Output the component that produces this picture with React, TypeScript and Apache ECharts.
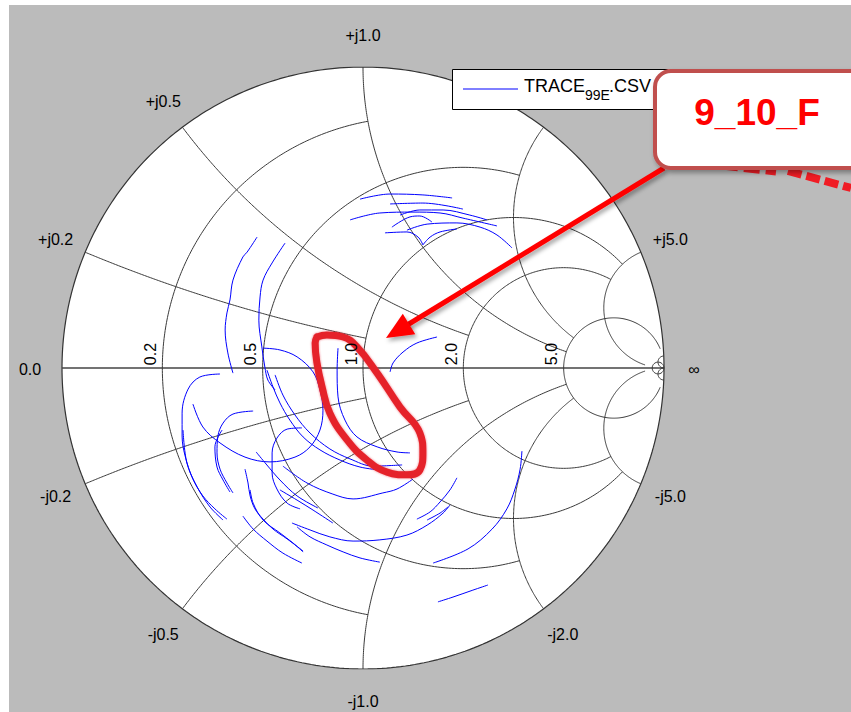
import React, { useEffect, useRef } from "react";
import * as echarts from "echarts";

// ---- layout constants ----
const W = 851;
const H = 712;
const CX = 363;
const CY = 368;
const RAD = 301;
const FONT = '"Liberation Sans", Arial, Helvetica, sans-serif';

// ---- Smith chart grid (value, limit) ----
const gridValues = [0.2, 0.5, 1, 2, 5];
const gridLimits = [1, 2, 5, 5, 30];
const extraValue = 50;

// ---- tick labels ("+j2.0" sits under the legend box in the reference) ----
const reactanceTicks = [0.2, 0.5, 1, 2, 5];
const reactanceLabelsPos = ["+j0.2", "+j0.5", "+j1.0", "", "+j5.0"];
const reactanceLabelsNeg = ["-j0.2", "-j0.5", "-j1.0", "-j2.0", "-j5.0"];
const resistanceLabels = ["0.2", "0.5", "1.0", "2.0", "5.0"];
const legendName = ["TRACE", "99E", ".CSV"];
const calloutText = "9_10_F";

// ---- measured traces (reflection coefficient, Re / Im) ----
const trace01 = [[-0.010, 0.561], [0.090, 0.578], [0.199, 0.575], [0.296, 0.565]];
const trace02 = [[0.090, 0.545], [0.199, 0.548], [0.332, 0.528]];
const trace03 = [[-0.043, 0.492], [0.056, 0.515], [0.166, 0.518], [0.256, 0.515], [0.332, 0.498], [0.445, 0.472]];
const trace04 = [[0.123, 0.508], [0.189, 0.525], [0.266, 0.525], [0.355, 0.508], [0.412, 0.492]];
const trace05 = [[0.096, 0.468], [0.156, 0.502], [0.189, 0.505], [0.229, 0.485]];
const trace06 = [[0.073, 0.449], [0.146, 0.452], [0.183, 0.435], [0.199, 0.409]];
const trace07 = [[0.146, 0.458], [0.213, 0.478], [0.312, 0.482], [0.389, 0.468], [0.445, 0.442], [0.495, 0.399]];
const trace08 = [[0.199, 0.409], [0.223, 0.435], [0.256, 0.452], [0.312, 0.462]];
const trace09 = [[-0.352, 0.435], [-0.385, 0.385], [-0.399, 0.369], [-0.432, 0.292], [-0.442, 0.226], [-0.452, 0.183], [-0.458, 0.126], [-0.449, 0.050], [-0.432, -0.017]];
const trace10 = [[-0.259, 0.415], [-0.302, 0.349], [-0.332, 0.292], [-0.342, 0.236], [-0.346, 0.159], [-0.336, 0.070], [-0.326, 0.003], [-0.316, -0.040], [-0.292, -0.073]];
const trace11 = [[-0.332, 0.066], [-0.276, 0.060], [-0.219, 0.037], [-0.166, -0.013], [-0.143, -0.073], [-0.133, -0.140], [-0.143, -0.206], [-0.176, -0.262], [-0.226, -0.296], [-0.309, -0.312], [-0.392, -0.296], [-0.475, -0.249], [-0.532, -0.196], [-0.565, -0.120]];
const trace12 = [[-0.475, -0.020], [-0.542, -0.030], [-0.581, -0.070], [-0.601, -0.150], [-0.601, -0.226], [-0.591, -0.292], [-0.565, -0.369], [-0.532, -0.425], [-0.492, -0.468], [-0.452, -0.502]];
const trace13 = [[-0.598, -0.206], [-0.585, -0.316], [-0.551, -0.395], [-0.508, -0.462], [-0.465, -0.505]];
const trace14 = [[-0.365, -0.143], [-0.432, -0.153], [-0.465, -0.183], [-0.482, -0.226], [-0.485, -0.282], [-0.475, -0.336], [-0.452, -0.382], [-0.432, -0.415]];
const trace15 = [[-0.468, -0.206], [-0.492, -0.262], [-0.485, -0.329], [-0.465, -0.372], [-0.442, -0.412]];
const trace16 = [[-0.203, -0.199], [-0.252, -0.203], [-0.286, -0.233], [-0.302, -0.282], [-0.302, -0.349], [-0.286, -0.402], [-0.252, -0.449], [-0.209, -0.468]];
const trace17 = [[-0.392, -0.336], [-0.382, -0.382], [-0.375, -0.425], [-0.359, -0.468], [-0.332, -0.502], [-0.299, -0.535], [-0.252, -0.568], [-0.199, -0.608]];
const trace18 = [[-0.399, -0.492], [-0.365, -0.535], [-0.319, -0.575], [-0.266, -0.615], [-0.203, -0.648]];
const trace19 = [[-0.319, -0.007], [-0.299, -0.063], [-0.276, -0.116], [-0.243, -0.173], [-0.199, -0.229], [-0.143, -0.272], [-0.076, -0.306], [-0.010, -0.329], [0.056, -0.339]];
const trace20 = [[-0.292, -0.023], [-0.266, -0.090], [-0.226, -0.156], [-0.176, -0.216], [-0.110, -0.269], [-0.043, -0.302], [0.033, -0.326], [0.130, -0.322]];
const trace21 = [[-0.266, -0.326], [-0.186, -0.382], [-0.100, -0.419], [-0.033, -0.435], [0.066, -0.415], [0.113, -0.402], [0.166, -0.369]];
const trace22 = [[-0.236, -0.515], [-0.176, -0.538], [-0.110, -0.561], [-0.033, -0.575], [0.056, -0.571], [0.146, -0.555], [0.213, -0.522], [0.266, -0.482], [0.289, -0.455]];
const trace23 = [[-0.219, -0.528], [-0.176, -0.561], [-0.120, -0.588], [-0.066, -0.611], [-0.010, -0.631], [0.056, -0.645]];
const trace24 = [[0.528, -0.276], [0.522, -0.336], [0.505, -0.402], [0.478, -0.468], [0.429, -0.535], [0.349, -0.601], [0.233, -0.648]];
const trace25 = [[0.249, -0.777], [0.299, -0.761], [0.365, -0.738], [0.415, -0.721]];
const trace26 = [[0.312, -0.365], [0.289, -0.405], [0.256, -0.445], [0.223, -0.478], [0.179, -0.502]];
const trace27 = [[0.282, -0.462], [0.256, -0.482], [0.213, -0.505]];
const trace28 = [[-0.083, 0.066], [-0.086, -0.007], [-0.083, -0.096], [-0.060, -0.173], [-0.020, -0.229], [0.047, -0.262], [0.113, -0.279], [0.156, -0.282]];
const trace29 = [[0.090, -0.013], [0.100, 0.017], [0.133, 0.053], [0.179, 0.083], [0.246, 0.103]];
const trace30 = [[-0.375, -0.405], [-0.365, -0.449], [-0.332, -0.505], [-0.276, -0.548], [-0.233, -0.581], [-0.199, -0.611]];
const trace31 = [[-0.276, -0.405], [-0.219, -0.439], [-0.166, -0.472], [-0.100, -0.515]];
const trace32 = [[-0.355, -0.279], [-0.322, -0.319], [-0.276, -0.372], [-0.219, -0.425], [-0.150, -0.465]];

const traces = [
  trace01, trace02, trace03, trace04, trace05, trace06, trace07, trace08,
  trace09, trace10, trace11, trace12, trace13, trace14, trace15, trace16,
  trace17, trace18, trace19, trace20, trace21, trace22, trace23, trace24,
  trace25, trace26, trace27, trace28, trace29, trace30, trace31, trace32,
];

// hand-drawn highlight loop (reflection coefficient)
const highlightLoop = [[-0.153, 0.103], [-0.120, 0.110], [-0.066, 0.103], [-0.020, 0.070], [0.047, -0.017], [0.123, -0.130], [0.189, -0.216], [0.199, -0.282], [0.189, -0.339], [0.146, -0.355], [0.080, -0.346], [0.013, -0.306], [-0.053, -0.239], [-0.110, -0.150], [-0.136, -0.063], [-0.153, 0.017], [-0.159, 0.083], [-0.153, 0.103]];

// ---- geometry helpers ----
function gamma(r: number, x: number): number[] {
  const d = (r + 1) * (r + 1) + x * x;
  return [(r * r - 1 + x * x) / d, (2 * x) / d];
}

function resistanceCircle(r: number, lim: number, n = 260): number[][] {
  const c = r / (1 + r);
  const rho = 1 / (1 + r);
  let t0 = 0;
  let t1 = 2 * Math.PI;
  if (isFinite(lim)) {
    const g = gamma(r, lim);
    t0 = Math.atan2(g[1], g[0] - c);
    t1 = 2 * Math.PI - t0;
  }
  const pts: number[][] = [];
  for (let i = 0; i <= n; i++) {
    const t = t0 + ((t1 - t0) * i) / n;
    pts.push([c + rho * Math.cos(t), rho * Math.sin(t)]);
  }
  return pts;
}

function reactanceArc(x: number, lim: number, n = 180): number[][] {
  const cy = 1 / x;
  const rho = Math.abs(1 / x);
  const g0 = gamma(0, x);
  const g1 = isFinite(lim) ? gamma(lim, x) : [1, 0];
  const a0 = Math.atan2(g0[1] - cy, g0[0] - 1);
  const a1 = Math.atan2(g1[1] - cy, g1[0] - 1);
  let d = a1 - a0;
  while (d > Math.PI) d -= 2 * Math.PI;
  while (d <= -Math.PI) d += 2 * Math.PI;
  const pts: number[][] = [];
  for (let i = 0; i <= n; i++) {
    const a = a0 + (d * i) / n;
    pts.push([1 + rho * Math.cos(a), cy + rho * Math.sin(a)]);
  }
  return pts;
}

function gridSeries(data: number[][], width = 1, color = "#3a3a3a") {
  return {
    type: "line",
    data,
    symbol: "none",
    showSymbol: false,
    silent: true,
    z: 1,
    lineStyle: { color, width },
    animation: false,
  };
}

function buildOption() {
  const series: any[] = [];
  // outer circle and real axis
  series.push(gridSeries(resistanceCircle(0, Infinity, 400), 1.2, "#333"));
  series.push(gridSeries([[-1, 0], [1, 0]], 1.4, "#444"));
  gridValues.forEach((v, i) => {
    series.push(gridSeries(resistanceCircle(v, gridLimits[i])));
    series.push(gridSeries(reactanceArc(v, gridLimits[i])));
    series.push(gridSeries(reactanceArc(-v, gridLimits[i])));
  });
  series.push(gridSeries(resistanceCircle(extraValue, Infinity, 60)));
  series.push(gridSeries(reactanceArc(extraValue, Infinity, 40)));
  series.push(gridSeries(reactanceArc(-extraValue, Infinity, 40)));

  traces.forEach((t) => {
    series.push({
      type: "line",
      name: legendName.join(""),
      data: t,
      symbol: "none",
      showSymbol: false,
      smooth: 0.35,
      z: 3,
      lineStyle: { color: "#0000ff", width: 1 },
      animation: false,
    });
  });

  series.push({
    type: "line",
    data: highlightLoop,
    symbol: "none",
    showSymbol: false,
    smooth: 0.45,
    z: 5,
    lineStyle: {
      color: "#e5232a",
      width: 7,
      cap: "round",
      join: "round",
      shadowBlur: 2,
      shadowColor: "rgba(229,35,42,0.6)",
    },
    animation: false,
  });

  const graphics: any[] = [];
  graphics.push({
    type: "rect",
    silent: true,
    z: -10,
    shape: { x: 9, y: 5, width: W - 9, height: H - 5 },
    style: { fill: "#bbbbbb" },
  });
  graphics.push({
    type: "circle",
    silent: true,
    z: -9,
    shape: { cx: CX, cy: CY, r: RAD },
    style: { fill: "#ffffff" },
  });

  const LR = RAD + 32;
  const labelStyle = (text: string) => ({
    text,
    x: 0,
    y: 0,
    fill: "#000",
    font: `16px ${FONT}`,
    align: "center",
    verticalAlign: "middle",
  });
  reactanceTicks.forEach((v, i) => {
    const gp = gamma(0, v);
    const gn = gamma(0, -v);
    if (reactanceLabelsPos[i]) {
      graphics.push({ type: "text", z: 50, x: CX + gp[0] * LR, y: CY - gp[1] * LR, style: labelStyle(reactanceLabelsPos[i]) });
    }
    graphics.push({ type: "text", z: 50, x: CX + gn[0] * LR, y: CY - gn[1] * LR, style: labelStyle(reactanceLabelsNeg[i]) });
  });
  graphics.push({ type: "text", z: 50, x: CX - LR, y: CY + 1, style: labelStyle("0.0") });
  graphics.push({ type: "text", z: 50, x: CX + RAD + 30, y: CY + 1, style: labelStyle("\u221e") });
  gridValues.forEach((v, i) => {
    const left = (v - 1) / (v + 1);
    graphics.push({
      type: "text",
      z: 50,
      x: CX + left * RAD - 12,
      y: CY - 14,
      rotation: Math.PI / 2,
      style: labelStyle(resistanceLabels[i]),
    });
  });

  // legend
  graphics.push({
    type: "group",
    z: 60,
    children: [
      { type: "rect", z: 60, shape: { x: 452.5, y: 69.5, width: 215, height: 40 }, style: { fill: "#fff", stroke: "#000", lineWidth: 1 } },
      { type: "line", z: 61, shape: { x1: 463, y1: 89, x2: 518, y2: 89 }, style: { stroke: "#0000ff", lineWidth: 1 } },
      { type: "text", z: 61, x: 524, y: 86, style: { text: legendName[0], fill: "#000", font: `18px ${FONT}`, align: "left", verticalAlign: "middle" } },
      { type: "text", z: 61, x: 585, y: 95, style: { text: legendName[1], fill: "#000", font: `14px ${FONT}`, align: "left", verticalAlign: "middle" } },
      { type: "text", z: 61, x: 609, y: 86, style: { text: legendName[2], fill: "#000", font: `18px ${FONT}`, align: "left", verticalAlign: "middle" } },
    ],
  });

  // dashed red scribbles partly hidden by callout
  graphics.push({
    type: "polyline",
    z: 70,
    shape: { points: [[722, 166], [776, 172]] },
    style: { stroke: "#f01c24", lineWidth: 7, lineDash: [16, 6], fill: null },
  });
  graphics.push({
    type: "polyline",
    z: 70,
    shape: { points: [[788, 171], [851, 188]] },
    style: { stroke: "#f01c24", lineWidth: 8, lineDash: [14, 5], fill: null },
  });

  // arrow
  const tip = [386, 338];
  const start = [664, 168];
  const dx = tip[0] - start[0];
  const dy = tip[1] - start[1];
  const len = Math.sqrt(dx * dx + dy * dy);
  const ux = dx / len;
  const uy = dy / len;
  const hl = 27;
  const hw = 12;
  const bx = tip[0] - ux * hl;
  const by = tip[1] - uy * hl;
  graphics.push({
    type: "line",
    z: 80,
    shape: { x1: start[0], y1: start[1], x2: bx + ux * 4, y2: by + uy * 4 },
    style: { stroke: "#ff0000", lineWidth: 5, shadowBlur: 4, shadowColor: "rgba(0,0,0,0.35)", shadowOffsetX: 2, shadowOffsetY: 3 },
  });
  graphics.push({
    type: "polygon",
    z: 81,
    shape: { points: [tip, [bx - uy * hw, by + ux * hw], [bx + uy * hw, by - ux * hw]] },
    style: { fill: "#ff0000", shadowBlur: 4, shadowColor: "rgba(0,0,0,0.35)", shadowOffsetX: 2, shadowOffsetY: 3 },
  });

  // callout
  graphics.push({
    type: "rect",
    z: 90,
    shape: { x: 655, y: 71, width: 240, height: 97, r: 16 },
    style: { fill: "#ffffff", stroke: "#c0504d", lineWidth: 4, shadowBlur: 5, shadowColor: "rgba(0,0,0,0.35)", shadowOffsetX: 2, shadowOffsetY: 3 },
  });
  graphics.push({
    type: "text",
    z: 91,
    x: 757,
    y: 112,
    style: { text: calloutText, fill: "#ff0000", font: `bold 37px ${FONT}`, align: "center", verticalAlign: "middle" },
  });

  return {
    animation: false,
    backgroundColor: "#ffffff",
    grid: { left: CX - RAD, top: CY - RAD, width: 2 * RAD, height: 2 * RAD, containLabel: false },
    xAxis: { type: "value", min: -1, max: 1, show: false },
    yAxis: { type: "value", min: -1, max: 1, show: false },
    series,
    graphic: { elements: graphics },
  };
}

export default function App() {
  const ref = useRef<HTMLDivElement>(null);
  useEffect(() => {
    if (!ref.current) return;
    const chart = echarts.init(ref.current, undefined, { renderer: "svg" });
    chart.setOption(buildOption() as any);
    return () => chart.dispose();
  }, []);
  return (
    <div
      ref={ref}
      style={{ position: "fixed", left: 0, top: 0, width: W, height: H }}
    />
  );
}
